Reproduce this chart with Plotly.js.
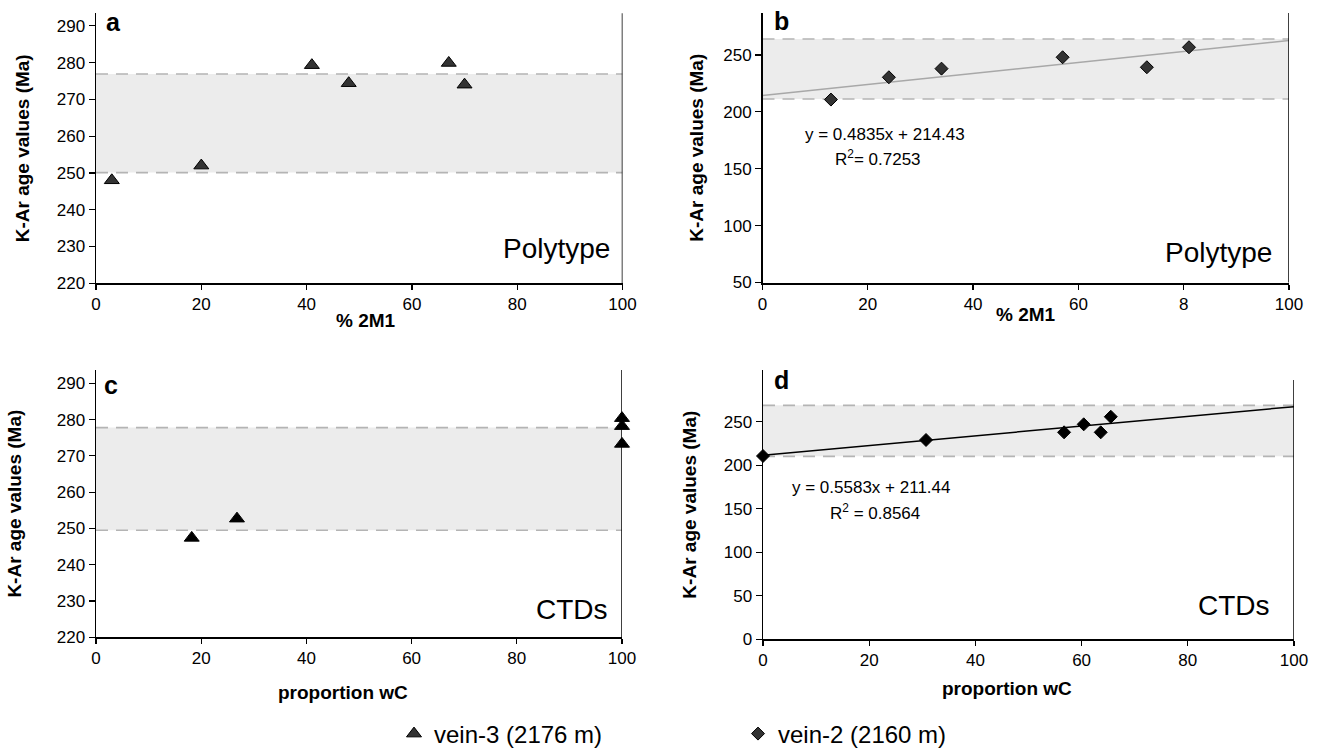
<!DOCTYPE html>
<html>
<head>
<meta charset="utf-8">
<script src="https://cdn.plot.ly/plotly-3.0.1.min.js"></script>
<style>html,body{margin:0;padding:0;background:#fff;}#chart{width:1320px;height:750px;}</style>
</head>
<body>
<div id="chart"></div>
<script>
// ---- data ----
var polyVein3X = [3, 20, 41, 48, 67, 70];
var polyVein3Y = [248, 252, 279.3, 274.4, 279.9, 274];
var polyVein2X = [13, 24, 34, 57, 73, 81];
var polyVein2Y = [210.8, 230.4, 238, 248, 239.2, 256.8];
var ctdVein3X = [18.2, 26.8, 100, 100, 100];
var ctdVein3Y = [247.4, 252.7, 280.4, 278.2, 273.3];
var ctdVein2X = [0, 30.7, 56.7, 60.4, 63.6, 65.5];
var ctdVein2Y = [210.6, 229, 237.8, 247, 237.8, 255.7];

var trendX = [0, 100];
var trendPolyY = [214.43, 262.78];
var trendCtdY = [211.44, 267.27];

var bandPoly3 = [250.1, 276.9];
var bandPoly2 = [211.3, 264];
var bandCtd3 = [249.5, 277.8];
var bandCtd2 = [210.2, 268.8];

var xTickVals = [0, 20, 40, 60, 80, 100];
var xTickTextA = ["0", "20", "40", "60", "80", "100"];
var xTickTextB = ["0", "20", "40", "60", "8", "100"];
var yTickVals3 = [220, 230, 240, 250, 260, 270, 280, 290];
var yTickValsB = [50, 100, 150, 200, 250];
var yTickValsD = [0, 50, 100, 150, 200, 250];

var seriesNames = ["vein-3 (2176 m)", "vein-2 (2160 m)"];
var eqPoly = ["y = 0.4835x + 214.43", "R<sup>2</sup>= 0.7253"];
var eqCtd = ["y = 0.5583x + 211.44", "R<sup>2</sup> = 0.8564"];

// ---- styling ----
var FONT = "Liberation Sans, Arial, sans-serif";
var W = 1320, H = 750;
function px(x) { return x / W; }
function py(y) { return 1 - y / H; }

var triA = {symbol: "triangle-up", size: 13, color: "#333333", line: {color: "#000", width: 1}};
var triC = {symbol: "triangle-up", size: 13, color: "#000000", line: {color: "#000", width: 1}};
var diaB = {symbol: "diamond", size: 10, color: "#333333", line: {color: "#000", width: 1}};
var diaD = {symbol: "diamond", size: 10, color: "#000000", line: {color: "#000", width: 1}};

var traces = [
  {x: polyVein3X, y: polyVein3Y, xaxis: "x", yaxis: "y", type: "scatter", mode: "markers",
   marker: triA, name: seriesNames[0], showlegend: true, legendrank: 1},
  {x: trendX, y: trendPolyY, xaxis: "x2", yaxis: "y2", type: "scatter", mode: "lines",
   line: {color: "#a8a8a8", width: 1.5}, showlegend: false, hoverinfo: "skip"},
  {x: polyVein2X, y: polyVein2Y, xaxis: "x2", yaxis: "y2", type: "scatter", mode: "markers",
   marker: diaB, name: seriesNames[1], showlegend: true, legendrank: 2},
  {x: ctdVein3X, y: ctdVein3Y, xaxis: "x3", yaxis: "y3", type: "scatter", mode: "markers",
   marker: triC, showlegend: false, cliponaxis: false},
  {x: trendX, y: trendCtdY, xaxis: "x4", yaxis: "y4", type: "scatter", mode: "lines",
   line: {color: "#000", width: 1.5}, showlegend: false, hoverinfo: "skip"},
  {x: ctdVein2X, y: ctdVein2Y, xaxis: "x4", yaxis: "y4", type: "scatter", mode: "markers",
   marker: diaD, showlegend: false, cliponaxis: false}
];

function xAxis(domain, anchor, ticktext, lw) {
  return {domain: domain, anchor: anchor, range: [0, 100], tickvals: xTickVals, ticktext: ticktext,
    showline: true, linecolor: "#000", linewidth: lw || 1.5, ticks: "outside", ticklen: 5,
    tickwidth: 1.2, tickcolor: "#000", showgrid: false, zeroline: false,
    tickfont: {family: FONT, size: 17, color: "#000"}, fixedrange: true};
}
function yAxis(domain, anchor, range, tickvals, standoff) {
  return {domain: domain, anchor: anchor, range: range, tickvals: tickvals,
    showline: true, linecolor: "#000", linewidth: 1.5, ticks: "outside", ticklen: 6,
    tickwidth: 1.2, tickcolor: "#000", showgrid: false, zeroline: false,
    tickfont: {family: FONT, size: 17, color: "#000"}, fixedrange: true,
    title: {text: "K-Ar age values (Ma)", font: {family: FONT, size: 19, color: "#000", weight: "bold"}, standoff: standoff}};
}

var xdA = [px(96), px(622.5)], xdB = [px(762.5), px(1289)];
var xdC = [px(96), px(622)], xdD = [px(763), px(1294)];
var ydA = [py(283.3), py(13.3)], ydB = [py(282.5), py(13)];
var ydC = [py(637.3), py(370)], ydD = [py(639.3), py(370)];

function band(xr, yr, vals) {
  return [
    {type: "rect", xref: xr, yref: yr, x0: 0, x1: 100, y0: vals[0], y1: vals[1],
     fillcolor: "#ececec", line: {width: 0}, layer: "below"},
    {type: "line", xref: xr, yref: yr, x0: 0, x1: 100, y0: vals[1], y1: vals[1],
     line: {color: "#b4b4b4", width: 1.6, dash: "12px,8px"}, layer: "below"},
    {type: "line", xref: xr, yref: yr, x0: 0, x1: 100, y0: vals[0], y1: vals[0],
     line: {color: "#b4b4b4", width: 1.6, dash: "12px,8px"}, layer: "below"}
  ];
}
function rightBorder(xr, yr, y0, y1) {
  return {type: "line", xref: xr, yref: yr, x0: 100, x1: 100, y0: y0, y1: y1,
          line: {color: "#000", width: 1.5}, layer: "above"};
}

var shapes = [].concat(
  band("x", "y", bandPoly3), band("x2", "y2", bandPoly2),
  band("x3", "y3", bandCtd3), band("x4", "y4", bandCtd2),
  [rightBorder("x", "y domain", 0, 1), rightBorder("x2", "y2 domain", 0, 1),
   rightBorder("x3", "y3 domain", 0, 1), rightBorder("x4", "y4", 0, 297.9)]
);

function ann(text, x, y, size, opts) {
  var a = {text: text, xref: "paper", yref: "paper", x: px(x), y: py(y), showarrow: false,
    xanchor: "center", yanchor: "middle",
    font: {family: FONT, size: size, color: "#000"}};
  for (var k in opts) a[k] = opts[k];
  if (opts && opts.bold) { a.font.weight = "bold"; delete a.bold; }
  return a;
}

var annotations = [
  ann("a", 113.5, 22, 25, {bold: true}),
  ann("b", 781, 21, 25, {bold: true}),
  ann("c", 110.5, 385, 25, {bold: true}),
  ann("d", 781, 380, 25, {bold: true}),
  ann("Polytype", 612, 248, 28, {xanchor: "right"}),
  ann("Polytype", 1274, 252, 28, {xanchor: "right"}),
  ann("CTDs", 610, 609, 28, {xanchor: "right"}),
  ann("CTDs", 1272, 605, 28, {xanchor: "right"}),
  ann(eqPoly[0], 803, 135, 17, {xanchor: "left"}),
  ann(eqPoly[1], 833, 158, 17, {xanchor: "left"}),
  ann(eqCtd[0], 790, 488, 17, {xanchor: "left"}),
  ann(eqCtd[1], 828, 512, 17, {xanchor: "left"}),
  ann("% 2M1", 366, 320, 19, {bold: true}),
  ann("% 2M1", 1026, 315, 19, {bold: true}),
  ann("proportion wC", 343, 692, 19, {bold: true}),
  ann("proportion wC", 1007, 688, 19, {bold: true})
];

var layout = {
  width: W, height: H,
  margin: {l: 0, r: 0, t: 0, b: 0, autoexpand: false},
  paper_bgcolor: "#fff", plot_bgcolor: "rgba(0,0,0,0)",
  font: {family: FONT, color: "#000"},
  xaxis: xAxis(xdA, "y", xTickTextA),
  yaxis: yAxis(ydA, "x", [220, 293.4], yTickVals3, 22),
  xaxis2: xAxis(xdB, "y2", xTickTextB, 2.5),
  yaxis2: yAxis(ydB, "x2", [50, 286.9], yTickValsB, 14),
  xaxis3: xAxis(xdC, "y3", xTickTextA),
  yaxis3: yAxis(ydC, "x3", [220, 293.67], yTickVals3, 30),
  xaxis4: xAxis(xdD, "y4", xTickTextA),
  yaxis4: yAxis(ydD, "x4", [0, 309.4], yTickValsD, 22),
  shapes: shapes,
  annotations: annotations,
  showlegend: true,
  legend: {orientation: "h", x: px(394), y: py(734), xanchor: "left", yanchor: "middle",
    font: {family: FONT, size: 24, color: "#000"}, bgcolor: "rgba(0,0,0,0)",
    entrywidth: 299, entrywidthmode: "pixels", itemclick: false, itemdoubleclick: false,
    traceorder: "normal"}
};

Plotly.newPlot("chart", traces, layout, {displayModeBar: false, staticPlot: true});
</script>
</body>
</html>
